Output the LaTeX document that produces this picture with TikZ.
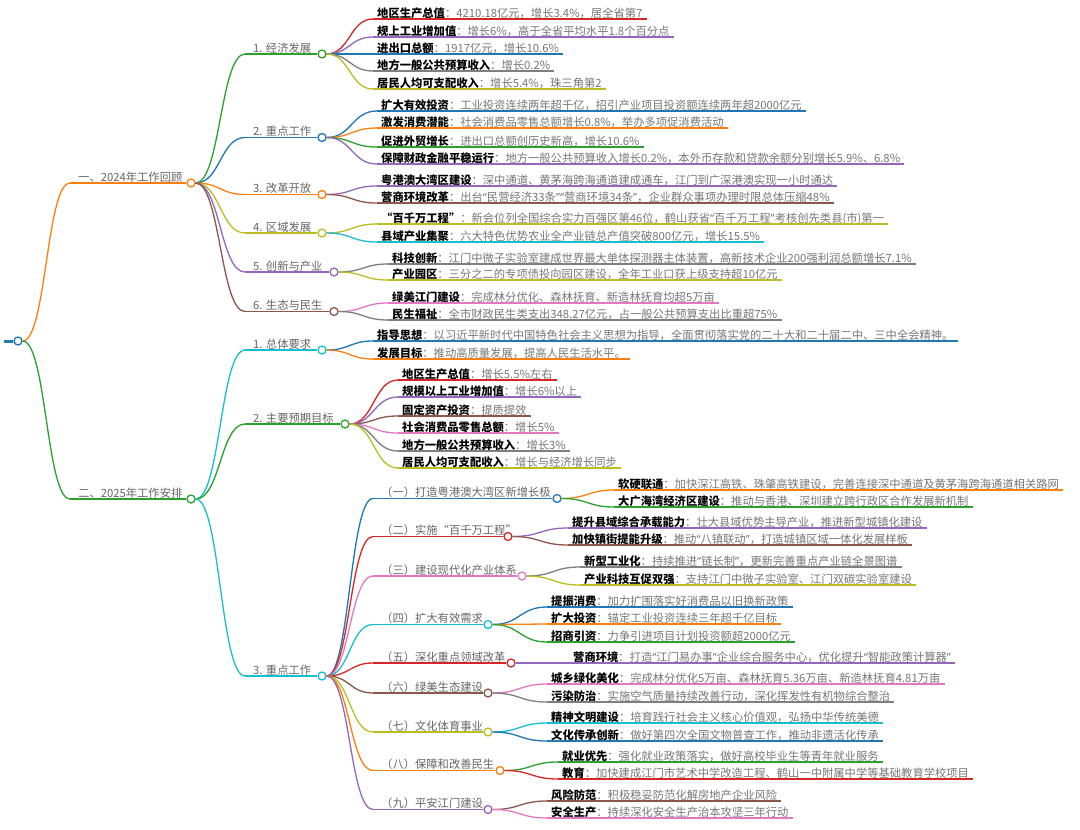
\documentclass[tikz,border=0pt]{standalone}
\usepackage{fontspec}
\setmainfont{Noto Sans CJK SC}
\newfontfamily\qf{Noto Sans}
\newcommand\oq{{\qf “}}
\newcommand\cq{{\qf ”}}
\usetikzlibrary{calc}
\definecolor{cB}{HTML}{1F77B4}
\definecolor{cO}{HTML}{FF7F0E}
\definecolor{cG}{HTML}{2CA02C}
\definecolor{cR}{HTML}{D62728}
\definecolor{cP}{HTML}{9467BD}
\definecolor{cN}{HTML}{8C564B}
\definecolor{cK}{HTML}{E377C2}
\definecolor{cY}{HTML}{7F7F7F}
\definecolor{cL}{HTML}{BCBD22}
\definecolor{cC}{HTML}{17BECF}
\definecolor{labelgray}{HTML}{666666}
\definecolor{restgray}{HTML}{777777}
\tikzset{
  lw/.style={line width=1.3pt},
  circ/.style={circle,minimum size=8pt,inner sep=0pt,fill=white,line width=1.3pt},
  lbl/.style={inner xsep=0pt,inner ysep=0pt,font=\fontsize{11.3}{13}\selectfont,text=labelgray},
  leaftxt/.style={inner xsep=4pt,inner ysep=0pt,font=\fontsize{11.3}{13}\selectfont,text=black},
  mmlink/.style={to path={let \p1=(\tikztostart),\p2=(\tikztotarget) in .. controls ({(\x1+\x2)/2},\y1) and ({(\x1+\x2)/2},\y2) .. (\tikztotarget)}},
}
% internal node: name, parent, x0, y, circle x, colour, label
\newcommand\inode[7]{%
  \coordinate (#1-a) at (#3,#4);
  \node[circ,draw=#6] (#1) at (#5,#4) {};
  \node[lbl,anchor=base west] (#1-t) at (#3+8,#4-2) {#7};
  \draw[#6,lw] (#1-a) -- (#1.west);
  \draw[#6,lw] (#2.east) to[mmlink] (#1-a);
}
% leaf: name, parent, x0, y, colour, bold key, rest
\newcommand\lf[7]{%
  \coordinate (#1-a) at (#3,#4);
  \node[leaftxt,anchor=base west] (#1) at (#3,#4-2) {\textbf{#6}\textcolor{restgray}{：#7}};
  \draw[#5,lw] (#1-a) -- (#1-a -| #1.east);
  \draw[#5,lw] (#2.east) to[mmlink] (#1-a);
}
\begin{document}
\begin{tikzpicture}[x=1pt,y=-1pt]
\fill[white] (0,0) rectangle (1080,830);
\useasboundingbox (0,0) rectangle (1080,830);
% root
\coordinate (root-a) at (4,341);
\node[circ,draw=cB] (root) at (18,341) {};
\draw[cB,line width=3pt] (root-a) -- (root.west);

% ===== 一 =====
\inode{A}{root}{70}{183}{191}{cO}{一、2024年工作回顾}
\inode{A1}{A}{245}{54}{322}{cG}{1. 经济发展}
\lf{L1a}{A1}{373}{19}{cR}{地区生产总值}{4210.18亿元，增长3.4\%，居全省第7}
\lf{L1b}{A1}{373}{37}{cP}{规上工业增加值}{增长6\%，高于全省平均水平1.8个百分点}
\lf{L1c}{A1}{373}{54}{cB}{进出口总额}{1917亿元，增长10.6\%}
\lf{L1d}{A1}{373}{71}{cY}{地方一般公共预算收入}{增长0.2\%}
\lf{L1e}{A1}{373}{89}{cL}{居民人均可支配收入}{增长5.4\%，珠三角第2}

\inode{A2}{A}{245}{137.5}{322}{cB}{2. 重点工作}
\lf{L2a}{A2}{377}{111}{cB}{扩大有效投资}{工业投资连续两年超千亿，招引产业项目投资额连续两年超2000亿元}
\lf{L2b}{A2}{377}{128}{cO}{激发消费潜能}{社会消费品零售总额增长0.8\%，举办多项促消费活动}
\lf{L2c}{A2}{377}{147}{cG}{促进外贸增长}{进出口总额创历史新高，增长10.6\%}
\lf{L2d}{A2}{377}{164}{cP}{保障财政金融平稳运行}{地方一般公共预算收入增长0.2\%，本外币存款和贷款余额分别增长5.9\%、6.8\%}

\inode{A3}{A}{245}{194.5}{322}{cO}{3. 改革开放}
\lf{L3a}{A3}{377}{186}{cP}{粤港澳大湾区建设}{深中通道、黄茅海跨海通道建成通车，江门到广深港澳实现一小时通达}
\lf{L3b}{A3}{377}{203}{cN}{营商环境改革}{出台\oq 民营经济33条\cq\oq 营商环境34条\cq，企业群众事项办理时限总体压缩48\%}

\inode{A4}{A}{245}{233}{322}{cL}{4. 区域发展}
\lf{L4a}{A4}{377}{224}{cL}{“百千万工程”}{新会位列全国综合实力百强区第46位，鹤山获省\oq 百千万工程\cq 考核创先类县(市)第一}
\lf{L4b}{A4}{377}{242}{cC}{县域产业集聚}{六大特色优势农业全产业链总产值突破800亿元，增长15.5\%}

\inode{A5}{A}{245}{272}{334}{cP}{5. 创新与产业}
\lf{L5a}{A5}{388}{264}{cY}{科技创新}{江门中微子实验室建成世界最大单体探测器主体装置，高新技术企业200强利润总额增长7.1\%}
\lf{L5b}{A5}{388}{280}{cL}{产业园区}{三分之二的专项债投向园区建设，全年工业口获上级支持超10亿元}

\inode{A6}{A}{245}{311.5}{334}{cN}{6. 生态与民生}
\lf{L6a}{A6}{388}{303}{cK}{绿美江门建设}{完成林分优化、森林抚育、新造林抚育均超5万亩}
\lf{L6b}{A6}{388}{320}{cY}{民生福祉}{全市财政民生类支出348.27亿元，占一般公共预算支出比重超75\%}

% ===== 二 =====
\inode{B}{root}{70}{499}{191}{cG}{二、2025年工作安排}
\inode{B1}{B}{245}{350}{322}{cC}{1. 总体要求}
\lf{M1a}{B1}{373}{341}{cB}{指导思想}{以习近平新时代中国特色社会主义思想为指导，全面贯彻落实党的二十大和二十届二中、三中全会精神。}
\lf{M1b}{B1}{373}{359}{cO}{发展目标}{推动高质量发展，提高人民生活水平。}

\inode{B2}{B}{245}{424}{345}{cG}{2. 主要预期目标}
\lf{M2a}{B2}{398}{380}{cR}{地区生产总值}{增长5.5\%左右}
\lf{M2b}{B2}{398}{397}{cP}{规模以上工业增加值}{增长6\%以上}
\lf{M2c}{B2}{398}{416}{cN}{固定资产投资}{提质提效}
\lf{M2d}{B2}{398}{433}{cK}{社会消费品零售总额}{增长5\%}
\lf{M2e}{B2}{398}{451}{cY}{地方一般公共预算收入}{增长3\%}
\lf{M2f}{B2}{398}{468}{cL}{居民人均可支配收入}{增长与经济增长同步}

\inode{B3}{B}{245}{676}{322}{cC}{3. 重点工作}
\inode{C1}{B3}{373}{498.5}{557}{cB}{（一）打造粤港澳大湾区新增长极}
\lf{N1a}{C1}{614}{490}{cO}{软硬联通}{加快深江高铁、珠肇高铁建设，完善连接深中通道及黄茅海跨海通道相关路网}
\lf{N1b}{C1}{614}{507}{cG}{大广海湾经济区建设}{推动与香港、深圳建立跨行政区合作发展新机制}

\inode{C2}{B3}{373}{536.5}{508}{cR}{（二）实施“百千万工程”}
\lf{N2a}{C2}{568}{528}{cP}{提升县域综合承载能力}{壮大县域优势主导产业，推进新型城镇化建设}
\lf{N2b}{C2}{568}{545}{cN}{加快镇街提能升级}{推动\oq 八镇联动\cq，打造城镇区域一体化发展样板}

\inode{C3}{B3}{373}{576}{522}{cK}{（三）建设现代化产业体系}
\lf{N3a}{C3}{580}{567}{cY}{新型工业化}{持续推进\oq 链长制\cq，更新完善重点产业链全景图谱}
\lf{N3b}{C3}{580}{585}{cL}{产业科技互促双强}{支持江门中微子实验室、江门双碳实验室建设}

\inode{C4}{B3}{373}{624.5}{488}{cC}{（四）扩大有效需求}
\lf{N4a}{C4}{547}{607}{cB}{提振消费}{加力扩围落实好消费品以旧换新政策}
\lf{N4b}{C4}{547}{624}{cO}{扩大投资}{锚定工业投资连续三年超千亿目标}
\lf{N4c}{C4}{547}{642}{cG}{招商引资}{力争引进项目计划投资额超2000亿元}

\inode{C5}{B3}{373}{663}{511}{cR}{（五）深化重点领域改革}
\lf{N5a}{C5}{569}{663}{cP}{营商环境}{打造\oq 江门易办事\cq 企业综合服务中心，优化提升\oq 智能政策计算器\cq}

\inode{C6}{B3}{373}{693}{488}{cN}{（六）绿美生态建设}
\lf{N6a}{C6}{547}{684}{cK}{城乡绿化美化}{完成林分优化5万亩、森林抚育5.36万亩、新造林抚育4.81万亩}
\lf{N6b}{C6}{547}{702}{cY}{污染防治}{实施空气质量持续改善行动，深化挥发性有机物综合整治}

\inode{C7}{B3}{373}{732}{488}{cL}{（七）文化体育事业}
\lf{N7a}{C7}{547}{723}{cC}{精神文明建设}{培育践行社会主义核心价值观，弘扬中华传统美德}
\lf{N7b}{C7}{547}{741}{cB}{文化传承创新}{做好第四次全国文物普查工作，推动非遗活化传承}

\inode{C8}{B3}{373}{770.5}{500}{cO}{（八）保障和改善民生}
\lf{N8a}{C8}{558}{762}{cG}{就业优先}{强化就业政策落实，做好高校毕业生等青年就业服务}
\lf{N8b}{C8}{558}{779}{cR}{教育}{加快建成江门市艺术中学改造工程、鹤山一中附属中学等基础教育学校项目}

\inode{C9}{B3}{373}{809.5}{488}{cP}{（九）平安江门建设}
\lf{N9a}{C9}{547}{801}{cN}{风险防范}{积极稳妥防范化解房地产企业风险}
\lf{N9b}{C9}{547}{818}{cK}{安全生产}{持续深化安全生产治本攻坚三年行动}
\end{tikzpicture}
\end{document}
